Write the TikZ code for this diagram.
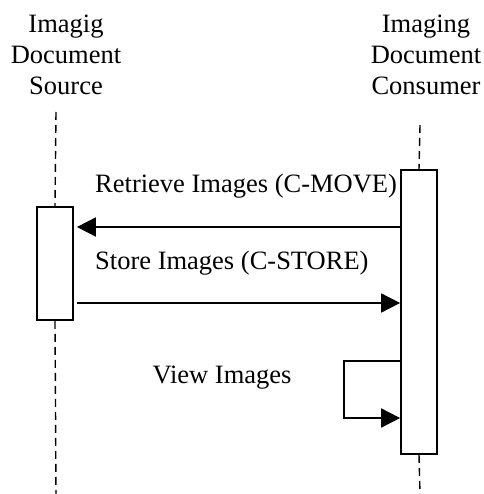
\documentclass[tikz,border=0pt]{standalone}
\usepackage{fontspec}
\setmainfont{Liberation Serif}
\usetikzlibrary{arrows.meta, positioning}

\begin{document}
\begin{tikzpicture}[
    x=1pt, y=-1pt,
    font=\fontsize{26.5}{31}\selectfont,
    actor/.style={align=center, inner sep=0pt, anchor=north},
    act/.style={rectangle, draw, line width=1.7pt, fill=white, minimum width=36pt, inner sep=0pt},
    life/.style={draw, line width=1.4pt, dash pattern=on 8pt off 5pt},
    msg/.style={draw, line width=1.7pt, -{Triangle[length=19pt, width=19pt]}},
    lbl/.style={inner sep=0pt}
]
    \useasboundingbox (0,0) rectangle (483,494);

    % lifeline heads
    \node [actor] (src) at (66,15) {Imagig\\Document\\Source};
    \node [actor] (con) at (426,15) {Imaging\\Document\\Consumer};

    % activations
    \node [act, minimum height=113pt] (srcbox) at (55,263.5) {};
    \node [act, minimum height=284pt] (conbox) at (419,312) {};

    \coordinate (srctop) at (56,112);
    \coordinate (srcend) at (56,494);
    \coordinate (contop) at (420,125);
    \coordinate (conend) at (420,494);

    \path [life] (srctop) -- (srcbox.north);
    \path [life] (srcbox.south) -- (srcend);
    \path [life] (contop) -- (conbox.north);
    \path [life] (conbox.south) -- (conend);

    % messages
    \coordinate (mv) at (0,227);
    \coordinate (st) at (0,303);
    \coordinate (vwa) at (344,361);
    \coordinate (vwb) at (344,418);

    \path [msg] (conbox.west |- mv) -- ([xshift=3pt]srcbox.east |- mv);
    \path [msg] ([xshift=3pt]srcbox.east |- st) -- (conbox.west |- st);
    \path [msg] (conbox.west |- vwa) -- (vwa) -- (vwb) -- (conbox.west |- vwb);

    \node [lbl, anchor=west] (mvlbl) at (95,186) {Retrieve Images (C-MOVE)};
    \node [lbl, anchor=west] (stlbl) at (95,263) {Store Images (C-STORE)};
    \node [lbl] (vwlbl) at (222,378) {View Images};
\end{tikzpicture}
\end{document}
